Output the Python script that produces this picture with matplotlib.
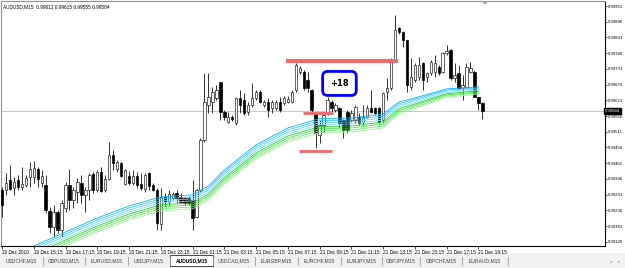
import numpy as np
import matplotlib.pyplot as plt
from matplotlib.patches import Rectangle

# --- AUDUSD M15 candles, prices in 1e-5 units ---
opens = [99307, 99307, 99342, 99314, 99342, 99318, 99325, 99353, 99353, 99381,
         99332, 99325, 99234, 99178, 99230, 99167, 99244, 99325, 99272, 99300,
         99332, 99290, 99307, 99363, 99307, 99370, 99307, 99346, 99430, 99381,
         99402, 99328, 99356, 99332, 99356, 99328, 99311, 99367, 99325, 99307,
         99188, 99283, 99265, 99279, 99297, 99283, 99279, 99279, 99272, 99213,
         99307, 99482, 99605, 99615, 99629, 99685, 99580, 99545, 99563, 99542,
         99629, 99622, 99580, 99605, 99629, 99650, 99605, 99615, 99594, 99594,
         99615, 99612, 99615, 99615, 99657, 99720, 99720, 99692, 99657, 99577,
         99500, 99535, 99577, 99615, 99587, 99594, 99552, 99580, 99552, 99552,
         99563, 99545, 99563, 99594, 99594, 99594, 99552, 99650, 99664, 99762,
         99874, 99860, 99832, 99668, 99692, 99703, 99752, 99703, 99717, 99720,
         99738, 99720, 99787, 99797, 99699, 99717, 99664, 99668, 99720, 99720,
         99633, 99612]
highs = [99318, 99367, 99395, 99353, 99360, 99388, 99360, 99405, 99409, 99388,
         99377, 99360, 99248, 99255, 99237, 99272, 99335, 99381, 99318, 99349,
         99360, 99318, 99367, 99370, 99377, 99388, 99360, 99475, 99447, 99412,
         99405, 99381, 99374, 99377, 99370, 99367, 99367, 99370, 99332, 99314,
         99314, 99297, 99307, 99300, 99307, 99297, 99283, 99286, 99342, 99311,
         99489, 99717, 99717, 99668, 99675, 99685, 99587, 99580, 99570, 99633,
         99657, 99647, 99615, 99682, 99657, 99657, 99622, 99629, 99622, 99622,
         99633, 99636, 99636, 99657, 99752, 99741, 99727, 99720, 99661, 99580,
         99552, 99577, 99633, 99622, 99612, 99598, 99556, 99587, 99587, 99605,
         99577, 99605, 99605, 99657, 99598, 99598, 99650, 99699, 99769, 99920,
         99878, 99864, 99832, 99769, 99752, 99773, 99755, 99720, 99762, 99780,
         99745, 99790, 99815, 99801, 99752, 99745, 99710, 99752, 99755, 99727,
         99633, 99615]
lows = [99213, 99290, 99307, 99290, 99307, 99307, 99318, 99318, 99332, 99318,
        99318, 99227, 99157, 99143, 99157, 99143, 99230, 99237, 99244, 99262,
        99262, 99230, 99272, 99297, 99300, 99300, 99300, 99342, 99377, 99370,
        99353, 99325, 99325, 99325, 99314, 99307, 99300, 99307, 99304, 99167,
        99167, 99255, 99255, 99272, 99262, 99262, 99255, 99255, 99167, 99209,
        99300, 99475, 99577, 99577, 99622, 99552, 99552, 99542, 99549, 99535,
        99577, 99570, 99570, 99598, 99622, 99612, 99598, 99563, 99577, 99587,
        99580, 99605, 99612, 99612, 99650, 99713, 99657, 99650, 99580, 99454,
        99472, 99510, 99570, 99580, 99580, 99528, 99489, 99507, 99545, 99542,
        99535, 99535, 99559, 99577, 99570, 99542, 99545, 99622, 99657, 99755,
        99853, 99808, 99650, 99657, 99685, 99692, 99657, 99685, 99710, 99703,
        99710, 99717, 99780, 99692, 99685, 99657, 99622, 99664, 99717, 99633,
        99587, 99555]
closes = [99255, 99332, 99311, 99335, 99318, 99328, 99349, 99381, 99384, 99346,
          99356, 99237, 99178, 99230, 99167, 99262, 99325, 99272, 99307, 99335,
          99290, 99307, 99360, 99307, 99370, 99304, 99346, 99430, 99402, 99405,
          99356, 99377, 99332, 99356, 99325, 99314, 99360, 99321, 99307, 99192,
          99283, 99265, 99293, 99293, 99279, 99265, 99262, 99262, 99209, 99307,
          99482, 99615, 99633, 99650, 99657, 99580, 99563, 99563, 99556, 99629,
          99605, 99577, 99605, 99629, 99650, 99615, 99615, 99587, 99615, 99615,
          99587, 99629, 99626, 99650, 99745, 99734, 99664, 99664, 99587, 99507,
          99535, 99570, 99622, 99594, 99605, 99542, 99517, 99517, 99577, 99598,
          99542, 99563, 99594, 99580, 99577, 99545, 99647, 99664, 99762, 99867,
          99860, 99832, 99675, 99703, 99745, 99745, 99692, 99717, 99755, 99752,
          99717, 99787, 99794, 99699, 99710, 99664, 99675, 99738, 99734, 99633,
          99612, 99584]

# --- eight moving averages (band), sampled bars, prices in 1e-5 units ---
ma_bars = [8, 16, 24, 32, 40, 48, 52, 56, 64, 72, 80, 88, 96, 100, 104, 112, 120]
ma_1 = [99111, 99160, 99209, 99251, 99283, 99290, 99321, 99377, 99465, 99524, 99557, 99559, 99573, 99615, 99629, 99661, 99668]
ma_2 = [99104, 99153, 99202, 99244, 99276, 99283, 99314, 99370, 99458, 99517, 99550, 99552, 99566, 99609, 99624, 99657, 99664]
ma_3 = [99097, 99146, 99195, 99237, 99269, 99276, 99307, 99363, 99451, 99510, 99543, 99545, 99559, 99603, 99619, 99653, 99661]
ma_4 = [99090, 99139, 99188, 99230, 99262, 99269, 99300, 99356, 99444, 99503, 99536, 99538, 99552, 99597, 99613, 99648, 99657]
ma_5 = [99083, 99132, 99181, 99223, 99255, 99262, 99293, 99349, 99437, 99496, 99529, 99531, 99545, 99591, 99608, 99644, 99654]
ma_6 = [99076, 99125, 99174, 99216, 99248, 99255, 99286, 99342, 99430, 99489, 99522, 99524, 99538, 99585, 99603, 99640, 99650]
ma_7 = [99069, 99118, 99167, 99209, 99241, 99248, 99279, 99335, 99423, 99482, 99515, 99517, 99531, 99579, 99597, 99636, 99647]
ma_8 = [99062, 99111, 99160, 99202, 99234, 99241, 99272, 99328, 99416, 99475, 99508, 99510, 99524, 99573, 99592, 99632, 99643]

time_labels = ['20 Dec 2010', '20 Dec 15:15', '20 Dec 17:15', '20 Dec 19:15', '20 Dec 21:15',
               '20 Dec 23:15', '21 Dec 01:15', '21 Dec 03:15', '21 Dec 05:15', '21 Dec 07:15',
               '21 Dec 09:15', '21 Dec 11:15', '21 Dec 13:15', '21 Dec 15:15', '21 Dec 17:15',
               '21 Dec 19:15']
price_ticks = [99951, 99896, 99841, 99786, 99731, 99676, 99621, 99566,
               99511, 99456, 99401, 99346, 99291, 99236, 99181, 99126]
last_price = 99584

# hand-drawn levels: (price, bar from, bar to, width)
levels = [(99758, 71.5, 99.7, 2.9), (99577, 75.8, 83.4, 2.0), (99443, 74.8, 83.1, 2.0)]

tabs = ['USDCHF,M15', 'GBPUSD,M15', 'EURUSD,M15', 'USDJPY,M15', 'AUDUSD,M15', 'USDCAD,M15',
        'EURGBP,M15', 'EURCHF,M15', 'EURJPY,M15', 'GBPJPY,M15', 'GBPCHF,M15', 'EURAUD,M15']
tab_edges = [0, 43, 85, 128, 170, 213, 255, 298, 341, 382, 420, 462, 508]
active_tab = 4

plt.rcParams['font.family'] = ['Liberation Sans', 'DejaVu Sans']
FS = 3.4
W, H = 625, 268
BAR = 3.97

def fx(x):
    return x / W

def fy(y):
    return 1 - y / H

fig = plt.figure(figsize=(W / 100, H / 100), dpi=100)
fig.patch.set_facecolor('white')
ax = fig.add_axes([fx(1), fy(246), fx(604), 245 / H])

o = np.array(opens) / 1e5
h = np.array(highs) / 1e5
l = np.array(lows) / 1e5
c = np.array(closes) / 1e5
x = np.arange(len(o))
up = c >= o

# price line
ax.axhline(last_price / 1e5, color='#c8c8c8', lw=0.7, zorder=1)

# candles
ax.vlines(x, l, h, color='#111111', lw=0.6, zorder=3)
ax.bar(x[up], np.maximum(c[up] - o[up], 0.000015), bottom=o[up], width=0.6,
       color='white', edgecolor='#222222', lw=0.5, zorder=4)
ax.bar(x[~up], o[~up] - c[~up], bottom=c[~up], width=0.6,
       color='black', edgecolor='black', lw=0.5, zorder=4)

# moving average band, drawn over the candles
ma_colors = ['#00b4ff', '#33c4ff', '#66d2ff', '#88dcff', '#22d422', '#44e044', '#70ea70', '#98f298']
for vals, col in zip([ma_1, ma_2, ma_3, ma_4, ma_5, ma_6, ma_7, ma_8], ma_colors):
    ax.plot(ma_bars, np.array(vals) / 1e5, color=col, lw=0.6, zorder=5)

# red levels
for price, b0, b1, lw in levels:
    ax.hlines(price / 1e5, b0, b1, color='#f06a6a', lw=lw, zorder=6)

# +18 label
ax.text(85.0, 0.99680, '+18', fontsize=6, fontweight='bold', family='DejaVu Sans',
        ha='center', va='center', zorder=7,
        bbox=dict(boxstyle='round,pad=0.9,rounding_size=0.6', fc='white', ec='#0000ff', lw=2.0))

ax.set_xlim(-0.25, -0.25 + 604 / BAR)
ax.set_ylim(0.99111, 0.999685)

# time axis
ax.set_xticks(np.arange(0, 8 * len(time_labels), 8))
ax.set_xticklabels(time_labels, fontsize=FS, ha='left')
ax.tick_params(axis='x', length=2, width=0.5, pad=1, color='black')

# price axis on the right
ax.yaxis.tick_right()
ax.set_yticks(np.array(price_ticks) / 1e5)
ax.set_yticklabels([f'{p / 1e5:.5f}' for p in price_ticks], fontsize=3.1)
ax.tick_params(axis='y', length=1.5, width=0.5, pad=0.8, color='black')
ax.text(1.0, last_price / 1e5, f'{last_price / 1e5:.5f}', transform=ax.get_yaxis_transform(),
        fontsize=3.1, color='white', ha='left', va='center',
        bbox=dict(boxstyle='square,pad=0.25', fc='black', ec='black'))

for side in ['left', 'top']:
    ax.spines[side].set_color('#909090')
    ax.spines[side].set_linewidth(0.8)
for side in ['right', 'bottom']:
    ax.spines[side].set_color('black')
    ax.spines[side].set_linewidth(0.8)

# chart header
fig.text(fx(3), fy(6.5), 'AUDUSD,M15  0.99612 0.99615 0.99555 0.99584',
         fontsize=FS, va='center', ha='left')

# chart shift marker
fig.add_artist(plt.Polygon([[fx(482), fy(1.5)], [fx(488), fy(1.5)], [fx(485), fy(4.5)]],
                           closed=True, transform=fig.transFigure, fc='#a0a0a0', ec='none'))

# tab strip
fig.add_artist(Rectangle((0, 0), 1, fy(253), transform=fig.transFigure,
                         fc='#f0f0f0', ec='none', zorder=0))
for i, name in enumerate(tabs):
    x0, x1 = tab_edges[i], tab_edges[i + 1]
    if i == active_tab:
        fig.add_artist(Rectangle((fx(x0), fy(266)), fx(x1 - x0), 11 / H, transform=fig.transFigure,
                                 fc='white', ec='#303030', lw=0.6))
        fig.text(fx((x0 + x1) / 2), fy(261), name, fontsize=FS + 0.2, fontweight='bold',
                 ha='center', va='center', color='black')
    else:
        fig.text(fx((x0 + x1) / 2), fy(261), name, fontsize=FS + 0.2,
                 ha='center', va='center', color='#404040')
for e in tab_edges[1:]:
    fig.add_artist(plt.Line2D([fx(e), fx(e)], [fy(265), fy(257)], transform=fig.transFigure,
                              color='#9a9a9a', lw=0.6))
fig.text(fx(611), fy(261), '\u25c2', fontsize=3, color='#909090', ha='center', va='center',
         family='DejaVu Sans')
fig.text(fx(619), fy(261), '\u25b8', fontsize=3, color='#909090', ha='center', va='center',
         family='DejaVu Sans')

fig.savefig('out.png', dpi=100)
